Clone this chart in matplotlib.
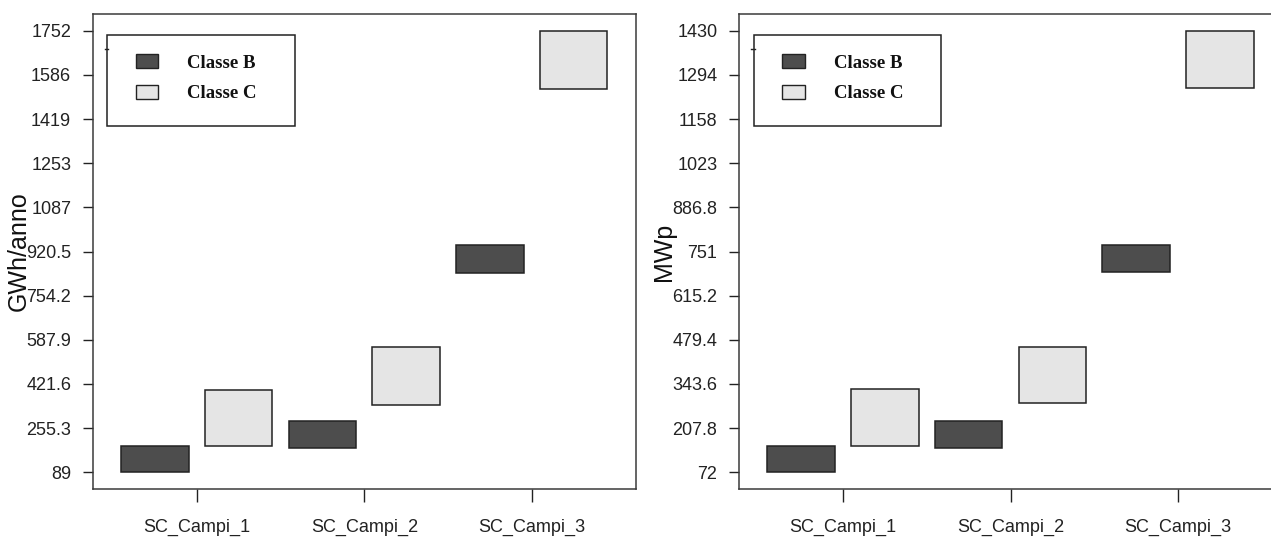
import numpy as np
import matplotlib.pyplot as plt
from matplotlib.patches import Rectangle

# floating bars: each box spans [low, high]
campi = ['SC_Campi_1', 'SC_Campi_2', 'SC_Campi_3']

energia_b_low = [89, 179.3, 840]
energia_b_high = [189, 281, 944]
energia_c_low = [189, 343.3, 1534]
energia_c_high = [398.6, 559, 1752]

potenza_b_low = [72, 145.8, 687.5]
potenza_b_high = [153.7, 229.6, 771.4]
potenza_c_low = [153.7, 285, 1253]
potenza_c_high = [328.9, 456.1, 1430]

col_b = '#4d4d4d'
col_c = '#e5e5e5'
edge = '#222222'

plt.rcParams['font.family'] = ['Liberation Sans', 'DejaVu Sans']

fig = plt.figure(figsize=(12.71, 5.37), dpi=100)
W, H = 1271.0, 537.0


def panel(left_px, b_low, b_high, c_low, c_high, ylabel, label_x):
    ax = fig.add_axes([left_px / W, (H - 489) / H, 543.3 / W, 475 / H])
    x = np.arange(1, len(campi) + 1)
    bw = 0.403
    b_low, b_high = np.array(b_low), np.array(b_high)
    c_low, c_high = np.array(c_low), np.array(c_high)
    ax.bar(x - 0.25, b_high - b_low, bottom=b_low, width=bw,
           color=col_b, edgecolor=edge, linewidth=1.1)
    ax.bar(x + 0.25, c_high - c_low, bottom=c_low, width=bw,
           color=col_c, edgecolor=edge, linewidth=1.1)

    lo = min(b_low.min(), c_low.min())
    hi = max(b_high.max(), c_high.max())
    ext = (hi - lo) * 0.0378
    ax.set_ylim(lo - ext, hi + ext)
    ax.set_xlim(0.379, 3.622)

    yt = np.linspace(lo, hi, 11)
    ax.set_yticks(yt)
    ax.set_yticklabels([f'{v:.4g}' for v in yt])
    ax.set_xticks(x)
    ax.set_xticklabels(campi)
    ax.tick_params(axis='y', length=7.5, width=1.0, pad=8, labelsize=13,
                   colors='#222222')
    ax.tick_params(axis='x', length=9.5, width=1.0, pad=12, labelsize=13,
                   colors='#222222')
    for s in ax.spines.values():
        s.set_color('#3a3a3a')
        s.set_linewidth(1.1)

    fig.text(label_x / W, 0.5 * (H - 14 + H - 489) / H, ylabel,
             rotation=90, ha='center', va='center', fontsize=18,
             color='#111111')

    # legend box
    tr = ax.transAxes
    ax.add_patch(Rectangle((0.0269, 0.7642), 0.3455, 0.191, transform=tr,
                           facecolor='white', edgecolor='#222222',
                           linewidth=1.1, zorder=5))
    ax.add_patch(Rectangle((0.0791, 0.887), 0.0416, 0.0282, transform=tr,
                           facecolor=col_b, edgecolor=edge, linewidth=1.0,
                           zorder=6))
    ax.add_patch(Rectangle((0.0791, 0.821), 0.0416, 0.029, transform=tr,
                           facecolor=col_c, edgecolor=edge, linewidth=1.0,
                           zorder=6))
    for yy, txt in [(0.896, 'Classe B'), (0.833, 'Classe C')]:
        ax.text(0.174, yy, txt, transform=tr, ha='left', va='center',
                fontsize=13.5, fontweight='bold', family='Liberation Serif',
                color='#111111', zorder=7)
    ax.plot([0.023, 0.029], [0.926, 0.926], transform=tr, color='#222222',
            linewidth=1.0, zorder=7)
    return ax


panel(92.7, energia_b_low, energia_b_high, energia_c_low, energia_c_high,
      'GWh/anno', 19)
panel(739, potenza_b_low, potenza_b_high, potenza_c_low, potenza_c_high,
      'MWp', 664)

fig.savefig('out.png', dpi=100)
